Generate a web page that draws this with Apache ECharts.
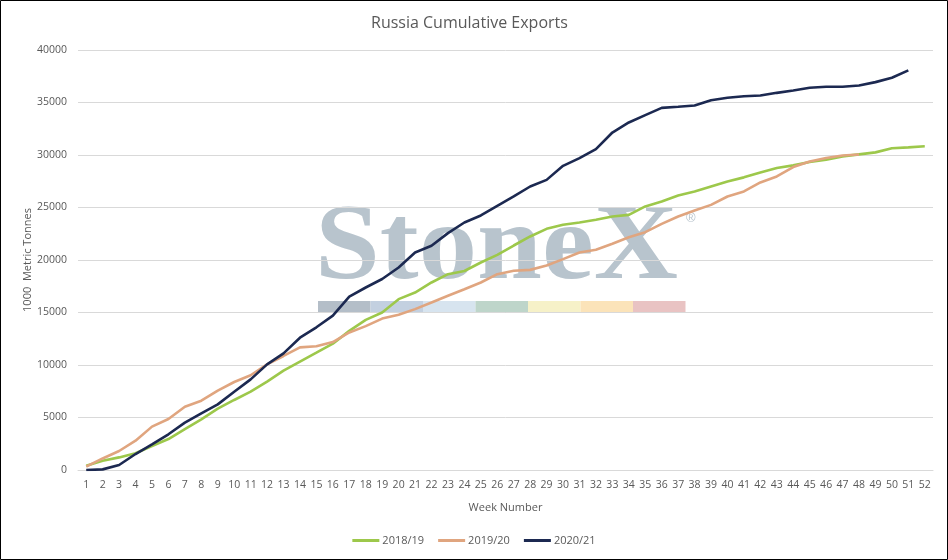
<!DOCTYPE html>
<html>
<head>
<meta charset="utf-8">
<script src="https://cdn.jsdelivr.net/npm/echarts@6/dist/echarts.min.js"></script>
<style>
html,body{margin:0;padding:0;background:#fff;}
#chart{width:948px;height:560px;}
</style>
</head>
<body>
<div id="chart"></div>
<script>
const weeks = ['1','2','3','4','5','6','7','8','9','10','11','12','13','14','15','16','17','18','19','20','21','22','23','24','25','26','27','28','29','30','31','32','33','34','35','36','37','38','39','40','41','42','43','44','45','46','47','48','49','50','51','52'];

const s2018 = [400,890,1200,1590,2290,2950,3900,4830,5840,6670,7460,8410,9460,10320,11170,12030,13250,14300,15000,16270,16900,17860,18650,18950,19760,20490,21380,22240,22970,23350,23570,23830,24140,24300,25100,25570,26150,26530,27010,27480,27870,28340,28760,29010,29330,29550,29870,30060,30250,30640,30730,30830];

const s2019 = [320,1100,1810,2790,4130,4860,6030,6600,7560,8380,9020,10060,10860,11680,11780,12190,13100,13700,14420,14780,15320,15950,16590,17220,17860,18650,18970,19060,19480,20080,20710,20970,21540,22170,22650,23440,24140,24710,25250,26050,26530,27390,27960,28850,29390,29710,29950,30050];

const s2020 = [0,60,480,1520,2440,3400,4510,5400,6250,7460,8630,10060,11110,12600,13590,14700,16510,17380,18190,19290,20710,21350,22560,23570,24240,25160,26050,27000,27630,28970,29700,30560,32140,33100,33800,34490,34590,34710,35220,35450,35600,35670,35920,36150,36400,36500,36500,36620,36940,37360,38060];

const seriesNames = ['2018/19','2019/20','2020/21'];
const seriesColors = ['#9DC84B','#E0A57F','#1C2951'];

const yTicks = {min:0, max:40000, interval:5000};

const font = 'Open Sans, Liberation Sans, sans-serif';
const txt = '#595959';

const wmColor = '#b8c4cd';
const barColors = ['#b4bec8','#c3d0e0','#d7e4ef','#bed5ca','#f6f1c8','#fbe3b9','#e9c3c3'];
const barChildren = barColors.map((c,i)=>({
  type:'rect', shape:{x:318 + i*52.5, y:301, width:52.5, height:12}, style:{fill:c}
}));

const chart = echarts.init(document.getElementById('chart'));
chart.setOption({
  backgroundColor:'#ffffff',
  animation:false,
  textStyle:{fontFamily:font},
  title:{
    text:'Russia Cumulative Exports',
    left:366, top:10,
    textStyle:{fontSize:16, fontWeight:'normal', color:txt, fontFamily:font}
  },
  graphic:[
    {type:'group', z:-10, silent:true, children:[
      {type:'text', x:315, y:304, scaleX:1.08, style:{text:'StoneX', font:'bold 108px "Liberation Serif", serif', fill:wmColor, verticalAlign:'bottom', align:'left'}},
      {type:'text', x:686, y:212, style:{text:'®', font:'13px "Liberation Sans", sans-serif', fill:wmColor}}
    ].concat(barChildren)},
    {type:'rect', z:100, silent:true, shape:{x:0.5,y:0.5,width:947,height:559}, style:{fill:'none', stroke:'#000', lineWidth:1}}
  ],
  legend:{
    data:seriesNames,
    bottom:9, left:'center',
    icon:'rect', itemWidth:27, itemHeight:3, itemGap:14,
    textStyle:{fontSize:11, color:txt, fontFamily:font, padding:[0,0,0,-2]}
  },
  grid:{left:78, right:15, top:50, bottom:90, containLabel:false},
  xAxis:{
    type:'category', data:weeks, boundaryGap:true,
    name:'Week Number', nameLocation:'middle', nameGap:32,
    nameTextStyle:{fontSize:11, color:txt, fontFamily:font},
    axisLine:{lineStyle:{color:'#d9d9d9'}},
    axisTick:{show:false},
    axisLabel:{interval:0, fontSize:10.5, color:txt, margin:10, fontFamily:font}
  },
  yAxis:{
    type:'value', min:yTicks.min, max:yTicks.max, interval:yTicks.interval,
    name:'1000  Metric Tonnes', nameLocation:'middle', nameGap:45, nameMoveOverlap:false,
    nameTextStyle:{fontSize:11, color:txt, fontFamily:font},
    axisLine:{show:false}, axisTick:{show:false},
    axisLabel:{fontSize:10.5, color:txt, margin:11, fontFamily:font, formatter:(v)=>String(v)},
    splitLine:{lineStyle:{color:'#d9d9d9'}}
  },
  series:[s2018, s2019, s2020].map((d,i)=>({
    name:seriesNames[i], type:'line', data:d, showSymbol:false, symbol:'none',
    lineStyle:{width:2.6, color:seriesColors[i]}, itemStyle:{color:seriesColors[i]},
    z:2+i
  }))
});
</script>
</body>
</html>
